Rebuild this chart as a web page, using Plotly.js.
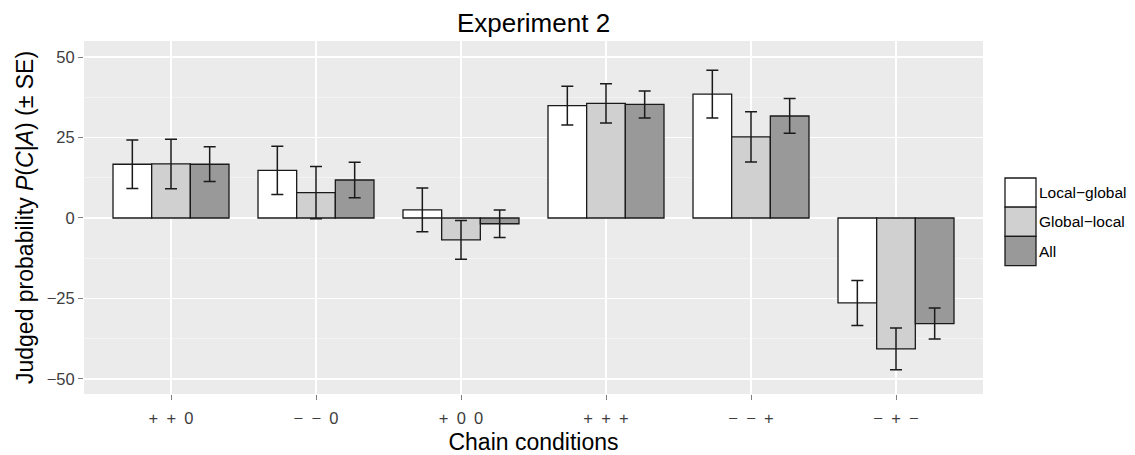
<!DOCTYPE html>
<html>
<head>
<meta charset="utf-8">
<script src="https://cdn.plot.ly/plotly-3.0.1.min.js"></script>
<style>html,body{margin:0;padding:0;background:#fff;}#chart{width:1135px;height:455px;}</style>
</head>
<body>
<div id="chart"></div>
<script>
// ---- data ----
const categories = ["+\u2002+\u20020", "\u2212\u2002\u2212\u20020", "+\u20020\u20020", "+\u2002+\u2002+", "\u2212\u2002\u2212\u2002+", "\u2212\u2002+\u2002\u2212"];
const seriesNames = ["Local\u2212global", "Global\u2212local", "All"];
const localGlobal = [16.7, 14.8, 2.5, 34.9, 38.5, -26.4];
const localGlobalSE = [7.5, 7.5, 6.8, 6.0, 7.4, 7.0];
const globalLocal = [16.8, 7.9, -6.8, 35.6, 25.2, -40.7];
const globalLocalSE = [7.7, 8.1, 6.0, 6.1, 7.8, 6.5];
const allVals = [16.7, 11.8, -1.8, 35.3, 31.7, -32.8];
const allSE = [5.4, 5.5, 4.3, 4.2, 5.4, 4.8];
const fillColors = ["#ffffff", "#cfd0cf", "#999999"];

const values = [localGlobal, globalLocal, allVals];
const errors = [localGlobalSE, globalLocalSE, allSE];

const traces = seriesNames.map((name, i) => ({
  type: "bar",
  name: name,
  x: categories,
  y: values[i],
  marker: {color: fillColors[i], line: {color: "#1a1a1a", width: 1.3}},
  error_y: {type: "data", array: errors[i], visible: true, color: "#1a1a1a", thickness: 1.5, width: 6},
  showlegend: false,
  hoverinfo: "x+y+name"
}));

// custom legend (keys + labels) in paper coordinates
const W = 1135, H = 455, mL = 84, mR = 152, mT = 41, mB = 61;
const pw = W - mL - mR, ph = H - mT - mB;
const px = v => (v - mL) / pw;
const py = v => (H - mB - v) / ph;
const keyX0 = 1005, keyX1 = 1036, keyY0 = 178, keyH = 29.2;
const shapes = [];
const annotations = [];
seriesNames.forEach((name, i) => {
  const top = keyY0 + i * keyH, bot = top + keyH;
  shapes.push({type: "rect", xref: "paper", yref: "paper",
    x0: px(keyX0), x1: px(keyX1), y0: py(bot), y1: py(top),
    fillcolor: fillColors[i], line: {color: "#1a1a1a", width: 1.3}});
  annotations.push({xref: "paper", yref: "paper", x: px(keyX1 + 0.5), y: py((top + bot) / 2),
    xanchor: "left", yanchor: "middle", showarrow: false, text: name,
    font: {family: "Liberation Sans, Arial, sans-serif", size: 15.5, color: "#000"}});
});

const layout = {
  width: W, height: H,
  margin: {l: mL, r: mR, t: mT, b: mB, pad: 0},
  paper_bgcolor: "#ffffff",
  plot_bgcolor: "#ebebeb",
  font: {family: "Liberation Sans, Arial, sans-serif", color: "#000"},
  title: {text: "Experiment 2", font: {size: 26, color: "#000"}, x: 0.5, xref: "paper", xanchor: "center",
    y: 1 - 22.5 / H, yref: "container", yanchor: "middle"},
  barmode: "group",
  bargap: 0.2,
  bargroupgap: 0,
  showlegend: false,
  xaxis: {
    type: "category",
    range: [-0.6, 5.6],
    showgrid: true, gridcolor: "#ffffff", gridwidth: 1.3,
    zeroline: false, showline: false,
    ticks: "outside", ticklen: 5, tickwidth: 1, tickcolor: "#7f7f7f",
    ticklabelstandoff: 4,
    tickfont: {size: 16.5, color: "#3d3d3d"},
    title: {text: "Chain conditions", font: {size: 23, color: "#000"}, standoff: 8}
  },
  yaxis: {
    range: [-54.7, 55],
    tickvals: [-50, -25, 0, 25, 50],
    showgrid: true, gridcolor: "#ffffff", gridwidth: 1.3,
    minor: {tickvals: [-37.5, -12.5, 12.5, 37.5], showgrid: true, gridcolor: "#f5f5f5", gridwidth: 0.8, ticks: ""},
    zeroline: false, showline: false,
    ticks: "outside", ticklen: 5, tickwidth: 1, tickcolor: "#7f7f7f",
    tickfont: {size: 16.5, color: "#3d3d3d"},
    title: {text: "Judged probability <i>P</i>(<i>C</i>|<i>A</i>) (\u00b1 SE)", font: {size: 23, color: "#000"}, standoff: 6}
  },
  shapes: shapes,
  annotations: annotations
};

Plotly.newPlot("chart", traces, layout, {displayModeBar: false, staticPlot: true});
</script>
</body>
</html>
